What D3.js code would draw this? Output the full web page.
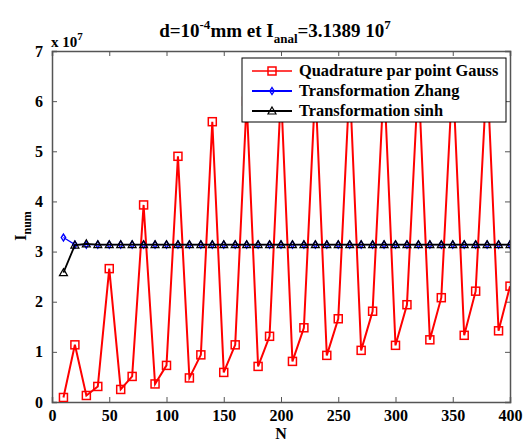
<!DOCTYPE html>
<html><head><meta charset="utf-8">
<script src="https://cdn.jsdelivr.net/npm/d3@7"></script>
<style>body{margin:0;background:#fff}svg{display:block}text{font-family:"Liberation Serif","Times New Roman",serif;font-weight:bold;fill:#000}</style>
</head><body>
<svg id="c" width="526" height="444"></svg>
<script>
const N = [10,20,30,40,50,60,70,80,90,100,110,120,130,140,150,160,170,180,190,200,210,220,230,240,250,260,270,280,290,300,310,320,330,340,350,360,370,380,390,400];
const gauss = [0.09,1.14,0.13,0.31,2.66,0.25,0.51,3.93,0.36,0.73,4.9,0.48,0.94,5.59,0.59,1.14,6.0,0.71,1.31,6.2,0.81,1.48,6.3,0.93,1.66,6.4,1.03,1.81,6.45,1.13,1.94,6.5,1.24,2.08,6.55,1.33,2.21,6.6,1.42,2.31];
const zhang = [3.28,3.139,3.139,3.139,3.139,3.139,3.139,3.139,3.139,3.139,3.139,3.139,3.139,3.139,3.139,3.139,3.139,3.139,3.139,3.139,3.139,3.139,3.139,3.139,3.139,3.139,3.139,3.139,3.139,3.139,3.139,3.139,3.139,3.139,3.139,3.139,3.139,3.139,3.139,3.139];
const sinh = [2.58,3.13,3.155,3.139,3.139,3.139,3.139,3.139,3.139,3.139,3.139,3.139,3.139,3.139,3.139,3.139,3.139,3.139,3.139,3.139,3.139,3.139,3.139,3.139,3.139,3.139,3.139,3.139,3.139,3.139,3.139,3.139,3.139,3.139,3.139,3.139,3.139,3.139,3.139,3.139];
const xTicks = [0,50,100,150,200,250,300,350,400];
const yTicks = [0,1,2,3,4,5,6,7];
const legendLabels = ["Quadrature par point Gauss","Transformation Zhang","Transformation sinh"];

const svg = d3.select("#c");
const L=52,R=510,T=51,B=402;
const x = d3.scaleLinear().domain([0,400]).range([L,R]);
const y = d3.scaleLinear().domain([0,7]).range([B,T]);
const axisCol="#555";

svg.append("defs").append("clipPath").attr("id","clip").append("rect").attr("x",L).attr("y",T).attr("width",R-L).attr("height",B-T);

const gx = svg.append("g").attr("transform",`translate(0,${B})`).call(d3.axisBottom(x).tickValues(xTicks).tickSize(-5).tickPadding(7).tickFormat(d3.format("d")));
const gxt = svg.append("g").attr("transform",`translate(0,${T})`).call(d3.axisTop(x).tickValues(xTicks).tickSize(-5).tickFormat(""));
const gy = svg.append("g").attr("transform",`translate(${L},0)`).call(d3.axisLeft(y).tickValues(yTicks).tickSize(-5).tickPadding(9).tickFormat(d3.format("d")));
const gyr = svg.append("g").attr("transform",`translate(${R},0)`).call(d3.axisRight(y).tickValues(yTicks).tickSize(-5).tickFormat(""));
[gx,gxt,gy,gyr].forEach(g=>{g.selectAll(".domain").attr("stroke",axisCol).attr("stroke-width",1.5);g.selectAll(".tick line").attr("stroke",axisCol);g.selectAll("text").style("font-family","Liberation Serif, serif").style("font-weight","bold").style("font-size","16px").attr("fill","#000");});
gx.selectAll("text").attr("dy","0.75em");

const plot = svg.append("g").attr("clip-path","url(#clip)");
const line = d3.line().x((d,i)=>x(N[i])).y(d=>y(d));

plot.append("path").datum(gauss).attr("d",line).attr("fill","none").attr("stroke","#f00").attr("stroke-width",2);
plot.selectAll(".sq").data(gauss).enter().append("rect").attr("x",(d,i)=>x(N[i])-4).attr("y",d=>y(d)-4).attr("width",8).attr("height",8).attr("fill","none").attr("stroke","#f00").attr("stroke-width",1.5);

plot.append("path").datum(zhang).attr("d",line).attr("fill","none").attr("stroke","#00f").attr("stroke-width",1.2);
const diamond = (cx,cy)=>`M${cx},${cy-3.5}L${cx+2.2},${cy}L${cx},${cy+3.5}L${cx-2.2},${cy}Z`;
plot.selectAll(".dm").data(zhang).enter().append("path").attr("d",(d,i)=>diamond(x(N[i]),y(d))).attr("fill","none").attr("stroke","#00f").attr("stroke-width",1.4);

plot.append("path").datum(sinh).attr("d",line).attr("fill","none").attr("stroke","#000").attr("stroke-width",1.8);
const tri=(cx,cy)=>`M${cx},${cy-4}L${cx+4},${cy+3}L${cx-4},${cy+3}Z`;
plot.selectAll(".tr").data(sinh).enter().append("path").attr("d",(d,i)=>tri(x(N[i]),y(d))).attr("fill","none").attr("stroke","#000").attr("stroke-width",1.2);

const lg = svg.append("g");
lg.append("rect").attr("x",242).attr("y",58).attr("width",264).attr("height",64).attr("fill","#fff").attr("stroke","#000").attr("stroke-width",1);
const cols=["#f00","#00f","#000"];
legendLabels.forEach((t,i)=>{
  const yy=71+i*20;
  lg.append("line").attr("x1",252).attr("x2",292).attr("y1",yy).attr("y2",yy).attr("stroke",cols[i]).attr("stroke-width",i==0?1.5:1.8);
  if(i==0) lg.append("rect").attr("x",268).attr("y",yy-4).attr("width",8).attr("height",8).attr("fill","none").attr("stroke","#f00").attr("stroke-width",1.5);
  if(i==1) lg.append("path").attr("d",diamond(272,yy)).attr("fill","none").attr("stroke","#00f").attr("stroke-width",1.4);
  if(i==2) lg.append("path").attr("d",tri(272,yy)).attr("fill","none").attr("stroke","#000").attr("stroke-width",1.2);
  lg.append("text").attr("x",299).attr("y",yy+5).style("font-size","16.4px").text(t);
});

const title = svg.append("text").attr("x",275).attr("y",37).attr("text-anchor","middle").style("font-size","19px");
title.append("tspan").text("d=10");
title.append("tspan").attr("dy",-8).style("font-size","13px").text("-4");
title.append("tspan").attr("dy",8).text("mm et I");
title.append("tspan").attr("dy",6).style("font-size","13px").text("anal");
title.append("tspan").attr("dy",-6).text("=3.1389 10");
title.append("tspan").attr("dy",-8).style("font-size","13px").text("7");

const ex = svg.append("text").attr("x",51).attr("y",47).style("font-size","15px");
ex.append("tspan").text("x 10");
ex.append("tspan").attr("dy",-7).style("font-size","11px").text("7");

svg.append("text").attr("x",281).attr("y",439).attr("text-anchor","middle").style("font-size","16px").text("N");
const yl = svg.append("text").attr("transform","translate(26,226) rotate(-90)").attr("text-anchor","middle").style("font-size","16px");
yl.append("tspan").text("I");
yl.append("tspan").attr("dy",5).style("font-size","12px").text("num");
</script>
</body></html>
